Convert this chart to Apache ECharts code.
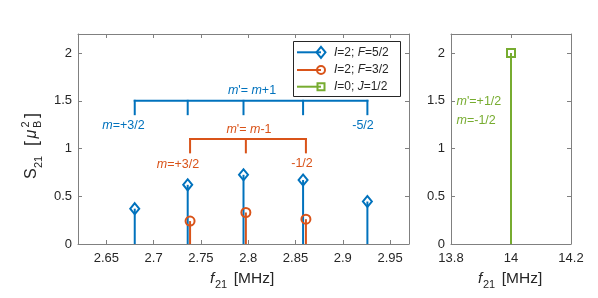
<!DOCTYPE html>
<html>
<head>
<meta charset="utf-8">
<script src="https://cdn.jsdelivr.net/npm/echarts@6/dist/echarts.min.js"></script>
<style>html,body{margin:0;padding:0;background:#fff}#c{width:598px;height:298px}</style>
</head>
<body>
<div id="c"></div>
<script>
// ---- data ----
const blueX = [2.680, 2.736, 2.795, 2.858, 2.926];
const blueY = [0.37, 0.62, 0.725, 0.67, 0.445];
const orangeX = [2.7385, 2.7975, 2.861];
const orangeY = [0.24, 0.33, 0.26];
const greenX = [14.0];
const greenY = [2.0];
const blueBracketLevel = 1.5, blueBracketDrop = 1.36;
const orangeBracketLevel = 1.1, orangeBracketDrop = 0.96;
const leftXTicks = [2.65, 2.7, 2.75, 2.8, 2.85, 2.9, 2.95];
const rightXTicks = [13.8, 14, 14.2];
const yTicks = [0, 0.5, 1, 1.5, 2];

const BLUE = '#0072BD', ORANGE = '#D95319', GREEN = '#77AC30';
const TXT = '#262626', AX = '#808080';
const FONT = "'Liberation Sans', Arial, Helvetica, sans-serif";

const chart = echarts.init(document.getElementById('c'), null, {renderer: 'canvas'});

function xAxis(gi, min, max, ticks, pos) {
  const bottom = pos === 'bottom';
  return {
    type: 'value', gridIndex: gi, position: pos, min: min, max: max,
    axisLine: {show: true, onZero: false, lineStyle: {color: AX, width: 1}},
    axisTick: {show: true, inside: true, length: 4, customValues: ticks, lineStyle: {color: AX}},
    axisLabel: {show: bottom, customValues: ticks, color: TXT, fontSize: 13, fontFamily: FONT, margin: 8,
      formatter: v => String(+v.toFixed(2))},
    splitLine: {show: false}
  };
}
function yAxis(gi, pos) {
  const left = pos === 'left';
  return {
    type: 'value', gridIndex: gi, position: pos, min: 0, max: 2.2,
    axisLine: {show: true, onZero: false, lineStyle: {color: AX, width: 1}},
    axisTick: {show: true, inside: true, length: 4, customValues: yTicks, lineStyle: {color: AX}},
    axisLabel: {show: left, customValues: yTicks, color: TXT, fontSize: 13, fontFamily: FONT, margin: 6,
      formatter: v => String(+v.toFixed(2))},
    splitLine: {show: false}
  };
}

function stems(xs, ys, color, ai) {
  return {
    type: 'custom', xAxisIndex: ai, yAxisIndex: ai, silent: true, z: 2,
    data: xs.map((x, i) => [x, ys[i]]),
    renderItem: (p, api) => {
      const a = api.coord([api.value(0), 0]);
      const b = api.coord([api.value(0), api.value(1)]);
      return {type: 'line', shape: {x1: a[0], y1: a[1], x2: b[0], y2: b[1]},
        style: {stroke: color, lineWidth: 2}};
    }
  };
}
function markers(xs, ys, color, ai, symbol, size) {
  return {
    type: 'scatter', xAxisIndex: ai, yAxisIndex: ai, silent: true, z: 3,
    symbol: symbol, symbolSize: size,
    data: xs.map((x, i) => [x, ys[i]]),
    itemStyle: {color: 'rgba(255,255,255,0)', borderColor: color, borderWidth: 2, opacity: 1}
  };
}
function bracket(xs, level, drop, color) {
  const n = xs.length;
  return {
    type: 'custom', xAxisIndex: 0, yAxisIndex: 0, silent: true, z: 2,
    data: xs.map(x => [x, level, drop]),
    renderItem: (p, api) => {
      const x = api.value(0);
      const t = api.coord([x, api.value(1)]);
      const b = api.coord([x, api.value(2)]);
      const children = [{type: 'line', shape: {x1: t[0], y1: t[1], x2: b[0], y2: b[1]},
        style: {stroke: color, lineWidth: 2, lineCap: 'square'}}];
      if (p.dataIndex === 0) {
        const e = api.coord([xs[n - 1], api.value(1)]);
        children.push({type: 'line', shape: {x1: t[0], y1: t[1], x2: e[0], y2: e[1]},
          style: {stroke: color, lineWidth: 2, lineCap: 'square'}});
      }
      return {type: 'group', children: children};
    }
  };
}

const rich = (c, fs) => ({
  i: {fontStyle: 'italic', fontSize: fs || 12.5, fontFamily: FONT, color: c},
  n: {fontSize: fs || 12.5, fontFamily: FONT, color: c}
});
function label(x, y, txt, color, align) {
  return {type: 'text', x: x, y: y, silent: true, z: 10,
    style: {text: txt, rich: rich(color), fill: color, font: '12.5px ' + FONT,
      align: align || 'center', verticalAlign: 'middle'}};
}

// legend graphic
const legendG = [];
legendG.push({type: 'rect', shape: {x: 293.5, y: 41.5, width: 107, height: 55},
  style: {fill: '#fff', stroke: TXT, lineWidth: 1}, z: 20});
const rows = [52.3, 70, 86.7];
const cols = [BLUE, ORANGE, GREEN];
const legendRich = ['{i|I}{n|=2; }{i|F}{n|=5/2}', '{i|I}{n|=2; }{i|F}{n|=3/2}', '{i|I}{n|=0; }{i|J}{n|=1/2}'];
rows.forEach((y, k) => {
  const c = cols[k];
  legendG.push({type: 'line', shape: {x1: 297, y1: y, x2: 321, y2: y}, style: {stroke: c, lineWidth: 2}, z: 21});
  if (k === 0) legendG.push({type: 'polygon', shape: {points: [[321, y - 5.5], [325.5, y], [321, y + 5.5], [316.5, y]]},
    style: {fill: 'rgba(255,255,255,0)', stroke: c, lineWidth: 2}, z: 22});
  if (k === 1) legendG.push({type: 'circle', shape: {cx: 321, cy: y, r: 4}, style: {fill: 'rgba(255,255,255,0)', stroke: c, lineWidth: 2}, z: 22});
  if (k === 2) legendG.push({type: 'rect', shape: {x: 317.5, y: y - 3.5, width: 7, height: 7}, style: {fill: 'rgba(255,255,255,0)', stroke: c, lineWidth: 2}, z: 22});
  legendG.push({type: 'text', x: 334, y: y, z: 22, style: {text: legendRich[k], rich: rich(TXT, 12), fill: TXT,
    font: '12px ' + FONT, verticalAlign: 'middle', align: 'left'}});
});

// y-axis label (rotated, reads bottom to top)
const yLabel = {
  type: 'group', x: 40, y: 179, rotation: Math.PI / 2, z: 30,
  children: [
    {type: 'text', x: 0, y: 0, style: {text: 'S', font: '16px ' + FONT, fill: TXT, verticalAlign: 'bottom'}},
    {type: 'text', x: 11, y: 4.5, style: {text: '21', font: '11px ' + FONT, fill: TXT, verticalAlign: 'bottom'}},
    {type: 'text', x: 33, y: 1, style: {text: '[', font: '18px ' + FONT, fill: TXT, verticalAlign: 'bottom'}},
    {type: 'text', x: 40.5, y: 0, style: {text: 'μ', font: 'italic 16px ' + FONT, fill: TXT, verticalAlign: 'bottom'}},
    {type: 'text', x: 51, y: 3.5, style: {text: 'B', font: '11px ' + FONT, fill: TXT, verticalAlign: 'bottom'}},
    {type: 'text', x: 51.5, y: -8.5, style: {text: '2', font: '11px ' + FONT, fill: TXT, verticalAlign: 'bottom'}},
    {type: 'text', x: 61, y: 1, style: {text: ']', font: '18px ' + FONT, fill: TXT, verticalAlign: 'bottom'}}
  ]
};
function xLabel(cx) {
  return {type: 'group', x: cx - 33, y: 279, z: 30, children: [
    {type: 'text', x: 0, y: 0, style: {text: 'f', font: 'italic 15.5px ' + FONT, fill: TXT, verticalAlign: 'middle'}},
    {type: 'text', x: 5, y: 5.5, style: {text: '21', font: '11px ' + FONT, fill: TXT, verticalAlign: 'middle'}},
    {type: 'text', x: 19.5, y: 0, style: {text: ' [MHz]', font: '15.5px ' + FONT, fill: TXT, verticalAlign: 'middle'}}
  ]};
}

const option = {
  animation: false,
  grid: [
    {left: 78, top: 34, width: 331, height: 210},
    {left: 451, top: 34, width: 120, height: 210}
  ],
  xAxis: [
    xAxis(0, 2.62, 2.97, leftXTicks, 'bottom'),
    xAxis(0, 2.62, 2.97, leftXTicks, 'top'),
    xAxis(1, 13.8, 14.2, rightXTicks, 'bottom'),
    xAxis(1, 13.8, 14.2, rightXTicks, 'top')
  ],
  yAxis: [yAxis(0, 'left'), yAxis(0, 'right'), yAxis(1, 'left'), yAxis(1, 'right')],
  series: [
    bracket(blueX, blueBracketLevel, blueBracketDrop, BLUE),
    bracket(orangeX, orangeBracketLevel, orangeBracketDrop, ORANGE),
    stems(blueX, blueY, BLUE, 0),
    stems(orangeX, orangeY, ORANGE, 0),
    markers(blueX, blueY, BLUE, 0, 'diamond', [9, 11]),
    markers(orangeX, orangeY, ORANGE, 0, 'circle', 9),
    stems(greenX, greenY, GREEN, 2),
    markers(greenX, greenY, GREEN, 2, 'rect', 8)
  ],
  graphic: [
    label(252, 91, "{i|m}{n|'= }{i|m}{n|+1}", BLUE),
    label(123.5, 126, '{i|m}{n|=+3/2}', BLUE),
    label(363, 125.5, '{n|-5/2}', BLUE),
    label(249, 130, "{i|m}{n|'= }{i|m}{n|-1}", ORANGE),
    label(178, 164.5, '{i|m}{n|=+3/2}', ORANGE),
    label(302, 163.5, '{n|-1/2}', ORANGE),
    label(456.5, 102, "{i|m}{n|'=+1/2}", GREEN, 'left'),
    label(456.5, 121, '{i|m}{n|=-1/2}', GREEN, 'left'),
    ...legendG,
    yLabel,
    xLabel(243),
    xLabel(511)
  ]
};
chart.setOption(option);
</script>
</body>
</html>
